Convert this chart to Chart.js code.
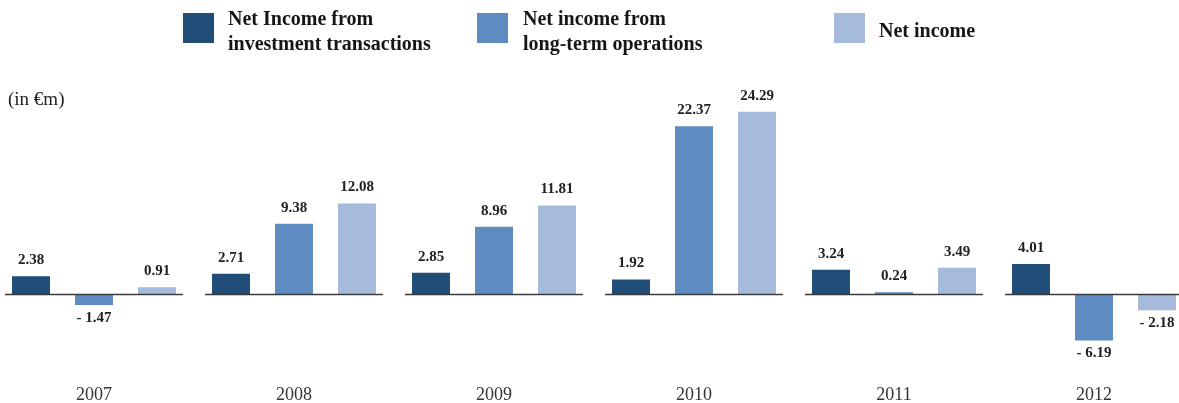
<!DOCTYPE html>
<html>
<head>
<meta charset="utf-8">
<script src="https://cdn.jsdelivr.net/npm/chart.js@4/dist/chart.umd.min.js"></script>
<style>
  html, body { margin: 0; padding: 0; background: #fff; overflow: hidden; }
  #page { position: relative; width: 1179px; height: 403px; overflow: hidden;
          font-family: "Liberation Serif", "Times New Roman", serif; color: #1a1a1a; }
  #wrap { position: absolute; left: -6px; top: 0; width: 1200px; height: 403px; }
  .sw { position: absolute; top: 13px; width: 31px; height: 30px; }
  .lbl { position: absolute; font-weight: bold; font-size: 20px; line-height: 25px; white-space: nowrap; color: #161616; }
  #unit { position: absolute; left: 8px; top: 89px; font-size: 19px; line-height: 19px; color: #222; }
</style>
</head>
<body>
<div id="page">
  <div id="wrap"><canvas id="c"></canvas></div>
  <div id="legend"></div>
  <div id="unit">(in €m)</div>
</div>
<script>
// Years and series (in € million)
const years = ['2007', '2008', '2009', '2010', '2011', '2012'];
const investmentIncome = [2.38, 2.71, 2.85, 1.92, 3.24, 4.01];
const longTermIncome   = [-1.47, 9.38, 8.96, 22.37, 0.24, -6.19];
const netIncome        = [0.91, 12.08, 11.81, 24.29, 3.49, -2.18];

const seriesNames = [
  ['Net Income from', 'investment transactions'],
  ['Net income from', 'long-term operations'],
  ['Net income']
];
const seriesColors = ['#204e79', '#5e8bc1', '#a6badc'];

// Legend built as HTML so entries can wrap over two lines
const legendPos = [{ sq: 183, tx: 228 }, { sq: 477, tx: 523 }, { sq: 834, tx: 879 }];
const legend = document.getElementById('legend');
seriesNames.forEach((lines, i) => {
  const sw = document.createElement('div');
  sw.className = 'sw';
  sw.style.left = legendPos[i].sq + 'px';
  sw.style.background = seriesColors[i];
  legend.appendChild(sw);
  const t = document.createElement('div');
  t.className = 'lbl';
  t.style.left = legendPos[i].tx + 'px';
  t.style.top = lines.length > 1 ? '6px' : '18px';
  t.innerHTML = lines.join('<br>');
  legend.appendChild(t);
});

// Short zero line under each year's group of bars
const groupBaselines = {
  id: 'groupBaselines',
  afterDatasetsDraw(chart) {
    const { ctx, scales: { x, y } } = chart;
    const y0 = Math.round(y.getPixelForValue(0)) + 0.5;
    const half = (x.width / years.length) * 0.445;
    ctx.save();
    ctx.strokeStyle = '#3b3b3b';
    ctx.lineWidth = 1.5;
    years.forEach((_, i) => {
      const cx = x.getPixelForValue(i);
      ctx.beginPath();
      ctx.moveTo(cx - half, y0);
      ctx.lineTo(cx + half, y0);
      ctx.stroke();
    });
    ctx.restore();
  }
};

// Value printed above positive bars and below negative ones
const valueLabels = {
  id: 'valueLabels',
  afterDatasetsDraw(chart) {
    const { ctx } = chart;
    ctx.save();
    ctx.font = 'bold 15px "Liberation Serif", serif';
    ctx.fillStyle = '#222';
    ctx.textAlign = 'center';
    ctx.textBaseline = 'middle';
    chart.data.datasets.forEach((ds, di) => {
      chart.getDatasetMeta(di).data.forEach((bar, i) => {
        const v = ds.data[i];
        const txt = v < 0 ? '- ' + Math.abs(v).toFixed(2) : v.toFixed(2);
        const ty = v < 0 ? bar.y + 13 : bar.y - 16;
        ctx.fillText(txt, bar.x, ty);
      });
    });
    ctx.restore();
  }
};

new Chart(document.getElementById('c'), {
  type: 'bar',
  data: {
    labels: years,
    datasets: [
      { label: seriesNames[0].join(' '), data: investmentIncome, backgroundColor: seriesColors[0] },
      { label: seriesNames[1].join(' '), data: longTermIncome, backgroundColor: seriesColors[1] },
      { label: seriesNames[2].join(' '), data: netIncome, backgroundColor: seriesColors[2] }
    ]
  },
  options: {
    responsive: true,
    maintainAspectRatio: false,
    animation: false,
    layout: { padding: { top: 69, bottom: 0, left: 0, right: 0 } },
    datasets: { bar: { categoryPercentage: 0.945, barPercentage: 0.603 } },
    plugins: { legend: { display: false }, tooltip: { enabled: false } },
    scales: {
      x: {
        grid: { display: false, drawTicks: false },
        border: { display: false },
        ticks: { color: '#333', padding: 15, font: { family: '"Liberation Serif", serif', size: 18 } },
        afterFit(scale) { scale.height = 34; }
      },
      y: {
        display: false,
        min: -10,
        max: 30
      }
    }
  },
  plugins: [groupBaselines, valueLabels]
});
</script>
</body>
</html>
